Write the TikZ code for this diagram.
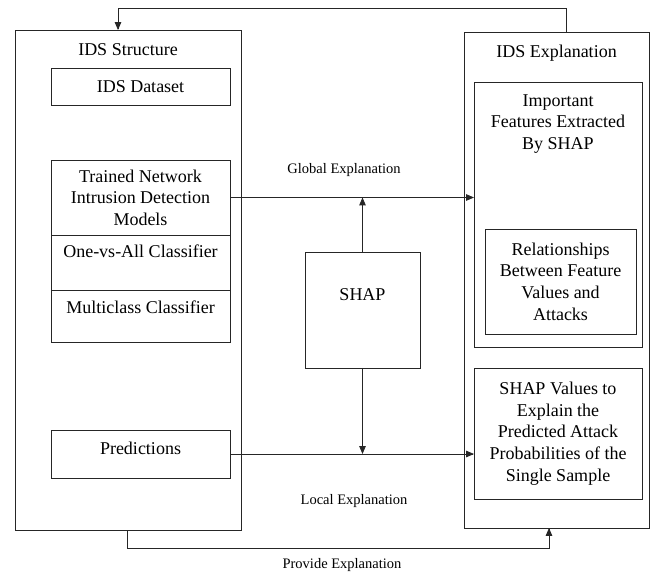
\documentclass[tikz,border=0pt]{standalone}
\usepackage{fontspec}
\setmainfont{Liberation Serif}
\usetikzlibrary{arrows,positioning}

\begin{document}
\begin{tikzpicture}[x=1pt, y=-1pt,
                    every path/.style={line width=0.8pt},
                    >=triangle 45,
                    box/.style={draw=black!85, rectangle, outer sep=0pt, inner sep=2pt, align=center,
                                font=\fontsize{18}{21.6}\selectfont},
                    frame/.style={draw=black!85, rectangle, outer sep=0pt},
                    heading/.style={font=\fontsize{18}{21.6}\selectfont, inner sep=0pt, anchor=north},
                    note/.style={font=\fontsize{14.5}{17}\selectfont, inner sep=0pt},
                    link/.style={draw=black!85, ->}]
\useasboundingbox (0,0) rectangle (654,572);

% outer frames
\node[frame, minimum width=226pt, minimum height=500pt,
      label={[heading, yshift=-13pt]north:IDS Structure}] (structure) at (128,280) {};
\node[frame, minimum width=185pt, minimum height=496pt,
      label={[heading, yshift=-13pt]north:IDS Explanation}] (explanation) at (556.5,280) {};

% IDS structure
\node[box, minimum width=179pt, minimum height=37pt] (dataset) at (140.5,86.5) {IDS Dataset};
\node[box, minimum width=179pt, minimum height=75pt] (trained) at (140.5,197.5)
  {Trained Network\\Intrusion Detection\\Models};
\node[box, minimum width=179pt, inner ysep=0pt, text height=23pt, text depth=32pt,
      below=0pt of trained] (ova) {One-vs-All Classifier};
\node[box, minimum width=179pt, inner ysep=0pt, text height=24pt, text depth=28pt,
      below=0pt of ova] (multi) {Multiclass Classifier};
\node[box, minimum width=179pt, inner ysep=0pt, text height=24pt, text depth=24pt] (pred)
  at (140.5,454) {Predictions};

% SHAP
\node[box, minimum width=115pt, inner ysep=0pt, text height=49pt, text depth=67pt] (shap)
  at (362.5,310) {SHAP};

% IDS explanation
\node[frame, minimum width=168pt, minimum height=265pt,
      label={[heading, align=center, yshift=-12pt]north:Important\\Features Extracted\\By SHAP}]
  (features) at (558,214.5) {};
\node[box, minimum width=151pt, minimum height=105pt] (relation) at (560.5,281.5)
  {Relationships\\Between Feature\\Values and\\Attacks};
\node[box, minimum width=168pt, minimum height=131pt] (values) at (558,433.5)
  {SHAP Values to\\Explain the\\Predicted Attack\\Probabilities of the\\Single Sample};

% explanations
\draw[link] (trained.east) -- (trained.east -| features.west);
\draw[link] (shap.north) -- (shap.north |- trained.east);
\draw[link] (pred.east) -- (pred.east -| values.west);
\draw[link] (shap.south) -- (shap.south |- pred.east);

\node[note] (global) at (344,170) {Global Explanation};
\node[note] (local) at (354,501) {Local Explanation};

% feedback loops
\coordinate (topturn) at (566,8);
\coordinate (botturn) at (127,548);
\draw[link] (explanation.north -| topturn) -- (topturn) -| ([xshift=-10pt]structure.north);
\draw[link] (structure.south -| botturn) -- (botturn) -| ([xshift=-7.5pt]explanation.south);
\node[note] (provide) at (342,565) {Provide Explanation};

\end{tikzpicture}
\end{document}
